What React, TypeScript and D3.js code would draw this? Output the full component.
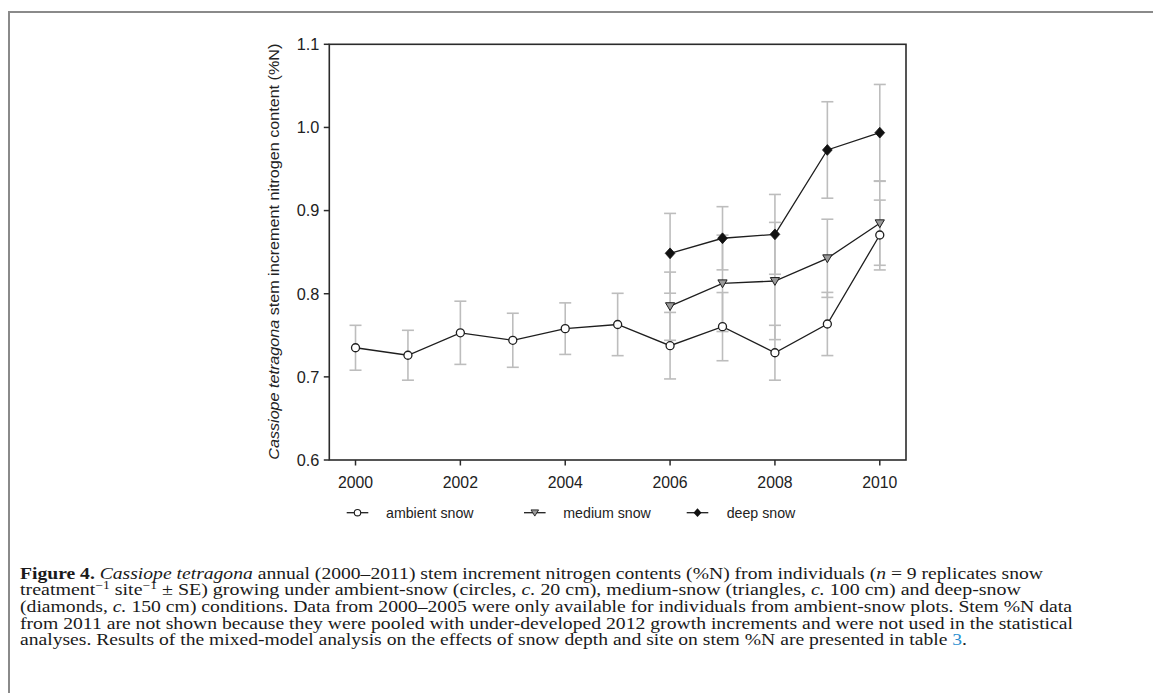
import React from "react";
import * as d3 from "d3";

const years = [2000, 2001, 2002, 2003, 2004, 2005, 2006, 2007, 2008, 2009, 2010];
const ambientMean = [0.735, 0.726, 0.753, 0.744, 0.758, 0.763, 0.7375, 0.7604, 0.729, 0.7636, 0.8706];
const ambientSE = [0.027, 0.030, 0.038, 0.0325, 0.031, 0.0375, 0.040, 0.041, 0.033, 0.038, 0.042];
const treatYears = [2006, 2007, 2008, 2009, 2010];
const mediumMean = [0.785, 0.8125, 0.8153, 0.8426, 0.8847];
const mediumSE = [0.041, 0.058, 0.0705, 0.047, 0.0505];
const deepMean = [0.8486, 0.8667, 0.8714, 0.9729, 0.9937];
const deepSE = [0.048, 0.038, 0.048, 0.058, 0.058];
const yTicks = [0.6, 0.7, 0.8, 0.9, 1.0, 1.1];
const xTicks = [2000, 2002, 2004, 2006, 2008, 2010];
const legendLabels = ["ambient snow", "medium snow", "deep snow"];

const W = 1153;
const H = 693;
const L = 329.3, R = 906, T = 44.3, B = 460;

const x = d3.scaleLinear().domain([1999.5, 2010.5]).range([L, R]);
const y = d3.scaleLinear().domain([0.6, 1.1]).range([B, T]);

const AX = "#2b2b2b";
const ERR = "#bdbdbd";
const LINE = "#1e1e1e";
const FONT = "'Liberation Sans', Arial, sans-serif";
const SERIF = "'Liberation Serif', 'Times New Roman', serif";
const CAP_FS = 16.8;

type Pt = { x: number; m: number; se: number };
const mk = (xs: number[], ms: number[], ses: number[]): Pt[] =>
  xs.map((v, i) => ({ x: v, m: ms[i], se: ses[i] }));

const ambient = mk(years, ambientMean, ambientSE);
const medium = mk(treatYears, mediumMean, mediumSE);
const deep = mk(treatYears, deepMean, deepSE);

const line = d3
  .line<Pt>()
  .x((d) => x(d.x))
  .y((d) => y(d.m));

function Circle({ cx, cy }: { cx: number; cy: number }) {
  return <circle cx={cx} cy={cy} r={4} fill="#fff" stroke={LINE} strokeWidth={1.3} />;
}
function Tri({ cx, cy }: { cx: number; cy: number }) {
  const s = 4.6;
  return (
    <path
      d={`M${cx - s},${cy - s * 0.75}L${cx + s},${cy - s * 0.75}L${cx},${cy + s * 0.95}Z`}
      fill="#9a9a9a"
      stroke={LINE}
      strokeWidth={1}
    />
  );
}
function Dia({ cx, cy }: { cx: number; cy: number }) {
  const s = 5.4;
  return (
    <path
      d={`M${cx},${cy - s}L${cx + s * 0.9},${cy}L${cx},${cy + s}L${cx - s * 0.9},${cy}Z`}
      fill="#111"
      stroke="#111"
      strokeWidth={0.8}
    />
  );
}

function ErrBars({ data }: { data: Pt[] }) {
  return (
    <g stroke={ERR} strokeWidth={1.6} fill="none">
      {data.map((d, i) => {
        const cx = x(d.x);
        const y1 = y(d.m + d.se);
        const y2 = y(d.m - d.se);
        return (
          <g key={i}>
            <line x1={cx} x2={cx} y1={y1} y2={y2} />
            <line x1={cx - 6} x2={cx + 6} y1={y1} y2={y1} />
            <line x1={cx - 6} x2={cx + 6} y1={y2} y2={y2} />
          </g>
        );
      })}
    </g>
  );
}

const SUP = CAP_FS * 0.68;

const captionLines: { parts: React.ReactNode; len: number }[] = [
  {
    parts: (
      <>
        <tspan fontWeight="bold">Figure 4.</tspan>
        <tspan> </tspan>
        <tspan fontStyle="italic">Cassiope tetragona</tspan>
        <tspan> annual (2000–2011) stem increment nitrogen contents (%N) from individuals (</tspan>
        <tspan fontStyle="italic">n</tspan>
        <tspan> = 9 replicates snow</tspan>
      </>
    ),
    len: 1023,
  },
  {
    parts: (
      <>
        <tspan>treatment</tspan>
        <tspan fontSize={SUP} dy={-6}>−1</tspan>
        <tspan dy={6}> site</tspan>
        <tspan fontSize={SUP} dy={-6}>−1</tspan>
        <tspan dy={6}> ± SE) growing under ambient-snow (circles, </tspan>
        <tspan fontStyle="italic">c.</tspan>
        <tspan> 20 cm), medium-snow (triangles, </tspan>
        <tspan fontStyle="italic">c.</tspan>
        <tspan> 100 cm) and deep-snow</tspan>
      </>
    ),
    len: 1001,
  },
  {
    parts: (
      <>
        <tspan>(diamonds, </tspan>
        <tspan fontStyle="italic">c.</tspan>
        <tspan> 150 cm) conditions. Data from 2000–2005 were only available for individuals from ambient-snow plots. Stem %N data</tspan>
      </>
    ),
    len: 1052,
  },
  {
    parts: (
      <tspan>from 2011 are not shown because they were pooled with under-developed 2012 growth increments and were not used in the statistical</tspan>
    ),
    len: 1053,
  },
  {
    parts: (
      <>
        <tspan>analyses. Results of the mixed-model analysis on the effects of snow depth and site on stem %N are presented in table </tspan>
        <tspan fill="#2a8fd0">3</tspan>
        <tspan>.</tspan>
      </>
    ),
    len: 947,
  },
];

export default function App() {
  const legendItems = [
    { lx: 346.7, tx: 386, kind: 0 },
    { lx: 524, tx: 563.3, kind: 1 },
    { lx: 686.7, tx: 726.7, kind: 2 },
  ];
  const ly = 512.7;
  return (
    <svg
      width={W}
      height={H}
      style={{ position: "absolute", left: 0, top: 0, background: "#fff" }}
      fontFamily={FONT}
    >
      <rect x={0} y={0} width={W} height={H} fill="#fff" />
      {/* page border */}
      <rect x={9} y={12} width={1400} height={900} fill="none" stroke="#8a8a8a" strokeWidth={2} />

      {/* error bars */}
      <ErrBars data={ambient} />
      <ErrBars data={medium} />
      <ErrBars data={deep} />

      {/* lines */}
      <g fill="none" stroke={LINE} strokeWidth={1.3}>
        <path d={line(ambient) || ""} />
        <path d={line(medium) || ""} />
        <path d={line(deep) || ""} />
      </g>

      {/* markers */}
      {ambient.map((d, i) => (
        <Circle key={"a" + i} cx={x(d.x)} cy={y(d.m)} />
      ))}
      {medium.map((d, i) => (
        <Tri key={"m" + i} cx={x(d.x)} cy={y(d.m)} />
      ))}
      {deep.map((d, i) => (
        <Dia key={"d" + i} cx={x(d.x)} cy={y(d.m)} />
      ))}

      {/* frame */}
      <rect x={L} y={T} width={R - L} height={B - T} fill="none" stroke={AX} strokeWidth={1.6} />

      {/* y axis */}
      {yTicks.map((t) => (
        <g key={t}>
          <line x1={L - 5.5} x2={L} y1={y(t)} y2={y(t)} stroke={AX} strokeWidth={1.5} />
          <text x={L - 10} y={y(t)} dy="0.36em" textAnchor="end" fontSize={16.3} fill="#222">
            {d3.format(".1f")(t)}
          </text>
        </g>
      ))}
      {/* x axis */}
      {xTicks.map((t) => (
        <g key={t}>
          <line x1={x(t)} x2={x(t)} y1={B} y2={B + 5.5} stroke={AX} strokeWidth={1.5} />
          <text x={x(t)} y={488} textAnchor="middle" fontSize={15.8} fill="#222">
            {t}
          </text>
        </g>
      ))}

      {/* y label */}
      <text
        transform={`translate(279,251.7) rotate(-90)`}
        textAnchor="middle"
        fontSize={15.5}
        fill="#222"
        textLength={416}
        lengthAdjust="spacingAndGlyphs"
      >
        <tspan fontStyle="italic">Cassiope tetragona</tspan>
        <tspan> stem increment nitrogen content (%N)</tspan>
      </text>

      {/* legend */}
      {legendItems.map((it, i) => {
        const cx = it.lx + 10.8;
        return (
          <g key={i}>
            <line x1={it.lx} x2={it.lx + 21.6} y1={ly} y2={ly} stroke={LINE} strokeWidth={1.3} />
            {it.kind === 0 && <circle cx={cx} cy={ly} r={3.2} fill="#fff" stroke={LINE} strokeWidth={1.1} />}
            {it.kind === 1 && (
              <path d={`M${cx - 3.8},${ly - 2.8}L${cx + 3.8},${ly - 2.8}L${cx},${ly + 3.4}Z`} fill="#9a9a9a" stroke={LINE} strokeWidth={0.9} />
            )}
            {it.kind === 2 && (
              <path d={`M${cx},${ly - 4.4}L${cx + 4},${ly}L${cx},${ly + 4.4}L${cx - 4},${ly}Z`} fill="#111" />
            )}
            <text x={it.tx} y={ly} dy="0.35em" fontSize={14.2} fill="#222">
              {legendLabels[i]}
            </text>
          </g>
        );
      })}

      {/* caption */}
      <g fontFamily={SERIF} fontSize={CAP_FS} fill="#1a1a1a">
        {captionLines.map((ln, i) => (
          <text
            key={i}
            x={20}
            y={578.5 + i * 16.7}
            textLength={ln.len}
            lengthAdjust="spacingAndGlyphs"
          >
            {ln.parts}
          </text>
        ))}
      </g>
    </svg>
  );
}
